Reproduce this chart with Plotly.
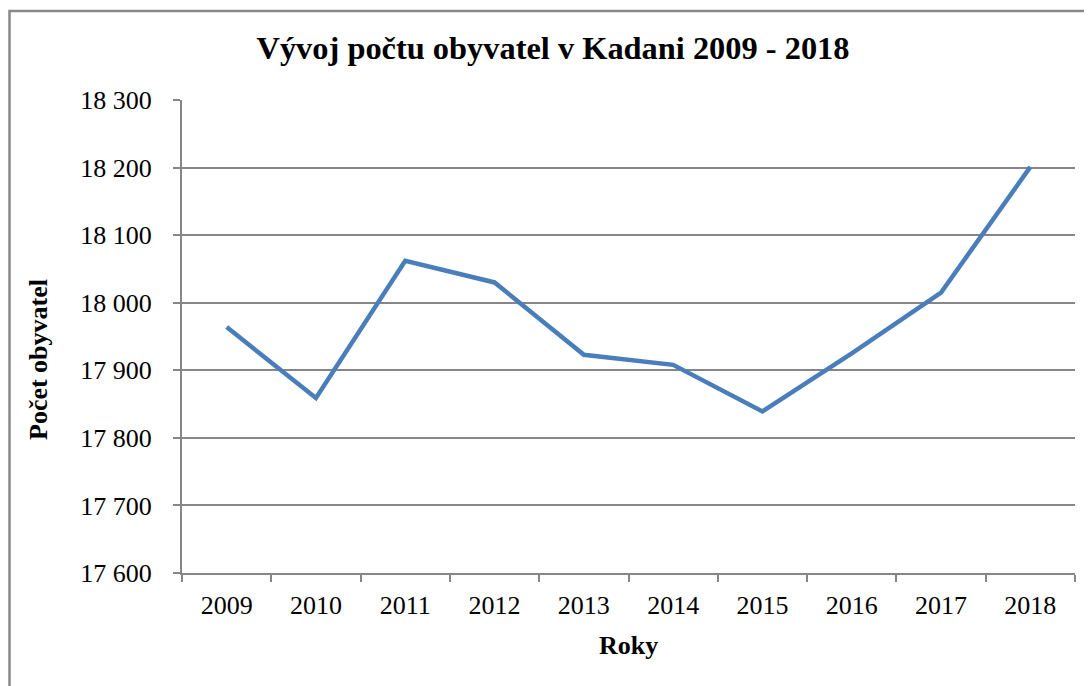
import plotly.graph_objects as go

years = ["2009", "2010", "2011", "2012", "2013", "2014", "2015", "2016", "2017", "2018"]
population = [17964, 17859, 18062, 18030, 17923, 17908, 17839, 17925, 18015, 18201]
y_ticks = [17600, 17700, 17800, 17900, 18000, 18100, 18200, 18300]

OFF = 8  # page body margin
W, H = 1092 - OFF, 686 - OFF
# reference pixel positions (page coords)
PL, PR, PT, PB = 182, 1075, 100, 573
L, T = PL - OFF, PT - OFF
R = W - (PR - OFF)
B = H - (PB - OFF)
pw, ph = W - L - R, H - T - B

FONT = "Liberation Serif"
GRAY = "#868686"

fig = go.Figure()
fig.add_trace(go.Scatter(
    x=years, y=population, mode="lines",
    line=dict(color="#4A7EBB", width=4.5),
    showlegend=False, hoverinfo="x+y",
))

def px_x(px):
    return (px - OFF - L) / pw

def px_y(py):
    return (H - B - (py - OFF)) / ph

fig.update_layout(
    width=W, height=H,
    margin=dict(l=L, r=R, t=T, b=B),
    paper_bgcolor="white", plot_bgcolor="white",
    separators=", ",
    font=dict(family=FONT, size=26, color="black"),
    title=dict(text="<b>Vývoj počtu obyvatel v Kadani 2009 - 2018</b>",
               x=px_x(553), xref="paper", xanchor="center",
               y=1 - (48 - OFF) / H, yref="container", yanchor="middle",
               font=dict(family=FONT, size=32.4, color="black")),
    xaxis=dict(
        type="category", tickson="boundaries",
        showline=True, linecolor=GRAY, linewidth=2,
        ticks="outside", ticklen=7, tickcolor=GRAY, tickwidth=2,
        showgrid=False, ticklabelstandoff=8,
        tickfont=dict(family=FONT, size=26, color="black"),
        range=[-0.5, 9.5],
    ),
    yaxis=dict(
        range=[17600, 18300], tickvals=y_ticks, tickformat=",d",
        showline=True, linecolor=GRAY, linewidth=2,
        ticks="outside", ticklen=7, tickcolor=GRAY, tickwidth=2,
        showgrid=True, gridcolor=GRAY, gridwidth=2,
        zeroline=False, ticklabelstandoff=16,
        tickfont=dict(family=FONT, size=26, color="black"),
    ),
    annotations=[
        dict(text="<b>Roky</b>", x=px_x(628), y=px_y(645), xref="paper", yref="paper",
             showarrow=False, xanchor="center", yanchor="middle",
             font=dict(family=FONT, size=26, color="black")),
        dict(text="<b>Počet obyvatel</b>", x=px_x(38), y=px_y(360), xref="paper", yref="paper",
             showarrow=False, xanchor="center", yanchor="middle", textangle=-90,
             font=dict(family=FONT, size=26, color="black")),
    ],
    shapes=[
        dict(type="rect", xref="paper", yref="paper",
             x0=px_x(OFF + 1.5), x1=px_x(1300), y0=px_y(900), y1=px_y(OFF + 3),
             line=dict(color="#898989", width=2.5), fillcolor="rgba(0,0,0,0)", layer="below"),
    ],
)

fig.write_html("out.html")
